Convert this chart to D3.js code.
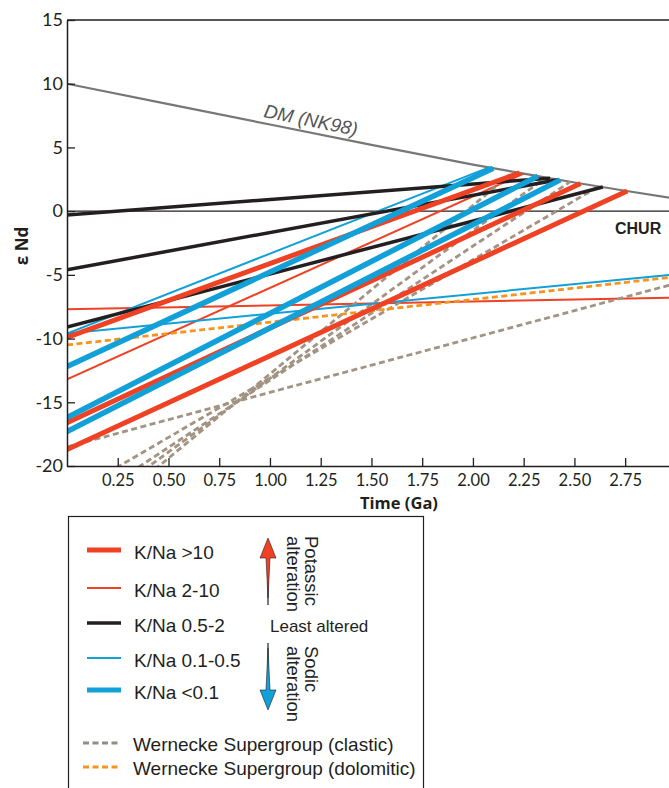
<!DOCTYPE html>
<html>
<head>
<meta charset="utf-8">
<script src="https://cdnjs.cloudflare.com/ajax/libs/d3/7.8.5/d3.min.js"></script>
<style>
  body { margin: 0; background: #fff; }
  .tick text { fill: #231f20; font-family: Lato, "Open Sans", sans-serif; }
  .legend text { font-family: "Liberation Sans", Arial, sans-serif; fill: #231f20; }
</style>
</head>
<body>
<div id="chart"></div>
<script>
// axis ticks
var xTicks = [0.25, 0.5, 0.75, 1.0, 1.25, 1.5, 1.75, 2.0, 2.25, 2.5, 2.75];
var yTicks = [-20, -15, -10, -5, 0, 5, 10, 15];

// depleted mantle curve (NK98): [time Ga, eps Nd]
var dmCurve = [[0, 10.0], [0.5, 8.4], [1.0, 6.8], [1.5, 5.2], [2.0, 3.65], [2.25, 2.95], [2.5, 2.25], [2.75, 1.6], [2.97, 1.05]];

// evolution lines: [eps Nd today, end time Ga, eps Nd at end]
var knaOver10 = [[-9.9, 2.23, 3.0], [-16.6, 2.53, 2.17], [-18.7, 2.76, 1.58]];
var kna2to10 = [[-7.7, 2.97, -6.8], [-13.2, 2.25, 2.95]];
var kna05to2 = [[-0.3, 2.38, 2.59], [-4.6, 2.42, 2.47], [-9.1, 2.64, 1.89]];
var kna01to05 = [[-9.6, 2.08, 3.43], [-9.6, 2.97, -5.0]];
var knaUnder01 = [[-12.2, 2.10, 3.37], [-16.2, 2.32, 2.75], [-17.3, 2.43, 2.45]];
var clastic = [[-18.5, 2.97, -5.8], [-22.4, 2.62, 1.94], [-23.8, 2.48, 2.31], [-24.7, 2.36, 2.64], [-26.0, 2.2, 3.09]];
var dolomitic = [[-10.5, 2.97, -5.2]];

var groups = [
  { rows: kna2to10, color: "#ef4123", w: 2 },
  { rows: clastic, color: "#a39382", w: 2.8, dash: "6,3.5" },
  { rows: dolomitic, color: "#f7941d", w: 2.8, dash: "6,3.5" },
  { rows: kna01to05, color: "#11a0d8", w: 2 },
  { rows: kna05to2, color: "#231f20", w: 3.5 },
  { rows: knaOver10, color: "#ef4123", w: 5 },
  { rows: knaUnder01, color: "#11a0d8", w: 5.5 }
];

var width = 669, height = 788;
var svg = d3.select("#chart").append("svg")
  .attr("width", width).attr("height", height);

var x = d3.scaleLinear().domain([0, 2.966]).range([67, 669]);
var y = d3.scaleLinear().domain([-20, 15]).range([466, 20]);

svg.append("clipPath").attr("id", "plot")
  .append("rect").attr("x", 67).attr("y", 20).attr("width", 602).attr("height", 446);

var plot = svg.append("g").attr("clip-path", "url(#plot)");

// CHUR
plot.append("line")
  .attr("x1", x(0)).attr("x2", x(2.966))
  .attr("y1", y(0)).attr("y2", y(0))
  .attr("stroke", "#231f20").attr("stroke-width", 1.3);

// DM
plot.append("path")
  .datum(dmCurve)
  .attr("d", d3.line().x(function (d) { return x(d[0]); }).y(function (d) { return y(d[1]); }))
  .attr("fill", "none").attr("stroke", "#777").attr("stroke-width", 2.2);

groups.forEach(function (g) {
  plot.selectAll(null)
    .data(g.rows)
    .enter()
    .append("line")
    .attr("x1", x(0))
    .attr("y1", function (d) { return y(d[0]); })
    .attr("x2", function (d) { return x(d[1]); })
    .attr("y2", function (d) { return y(d[2]); })
    .attr("stroke", g.color)
    .attr("stroke-width", g.w)
    .attr("stroke-dasharray", g.dash || null);
});

// axes
var xAxis = svg.append("g")
  .attr("transform", "translate(0,466)")
  .call(d3.axisBottom(x).tickValues(xTicks).tickSizeInner(-8).tickSizeOuter(0)
    .tickPadding(8).tickFormat(d3.format(".2f")));
xAxis.selectAll("text").style("font-size", "16.5px");

var yAxis = svg.append("g")
  .attr("transform", "translate(67,0)")
  .call(d3.axisLeft(y).tickValues(yTicks).tickSizeInner(-8).tickSizeOuter(0)
    .tickPadding(4).tickFormat(function (d) { return String(d); }));
yAxis.selectAll("text").style("font-size", "18px");

svg.selectAll(".domain").attr("stroke", "#231f20").attr("stroke-width", 1.5);
svg.selectAll(".tick line").attr("stroke", "#231f20").attr("stroke-width", 1.3);

// top border
svg.append("line").attr("x1", 67).attr("x2", 669).attr("y1", 20).attr("y2", 20)
  .attr("stroke", "#231f20").attr("stroke-width", 1.5);

// axis titles
svg.append("text").attr("x", 399).attr("y", 509).attr("text-anchor", "middle")
  .style("font-family", "Open Sans, sans-serif").style("font-weight", "bold").style("font-size", "16.5px")
  .attr("fill", "#231f20").text("Time (Ga)");
svg.append("text").attr("transform", "translate(28,246) rotate(-90)").attr("text-anchor", "middle")
  .style("font-family", "Open Sans, sans-serif").style("font-weight", "bold").style("font-size", "17px")
  .attr("fill", "#231f20").text("ε Nd");

// labels
svg.append("text").attr("transform", "translate(263,117) rotate(11.5)")
  .style("font-family", "Liberation Sans, Arial, sans-serif").style("font-style", "italic")
  .style("font-size", "19px").attr("fill", "#555").text("DM (NK98)");
svg.append("text").attr("x", 615).attr("y", 234)
  .style("font-family", "Liberation Sans, Arial, sans-serif").style("font-weight", "bold")
  .style("font-size", "16px").attr("fill", "#231f20").text("CHUR");

// legend
var lg = svg.append("g").attr("class", "legend");
lg.append("rect").attr("x", 68.5).attr("y", 516.5).attr("width", 355).attr("height", 300)
  .attr("fill", "none").attr("stroke", "#231f20").attr("stroke-width", 1.2);

var legendItems = [
  { label: "K/Na >10", color: "#ef4123", w: 5, y: 550 },
  { label: "K/Na 2-10", color: "#ef4123", w: 2, y: 588 },
  { label: "K/Na 0.5-2", color: "#231f20", w: 3.5, y: 623 },
  { label: "K/Na 0.1-0.5", color: "#11a0d8", w: 2, y: 658 },
  { label: "K/Na <0.1", color: "#11a0d8", w: 5, y: 690 },
  { label: "Wernecke Supergroup (clastic)", color: "#8f8f86", w: 2.8, y: 743, dash: "6,3.5" },
  { label: "Wernecke Supergroup (dolomitic)", color: "#f7941d", w: 2.8, y: 767, dash: "6,3.5" }
];
legendItems.forEach(function (d) {
  lg.append("line").attr("x1", d.dash ? 83 : 87).attr("x2", 121).attr("y1", d.y).attr("y2", d.y)
    .attr("stroke", d.color).attr("stroke-width", d.w).attr("stroke-dasharray", d.dash || null);
  lg.append("text").attr("x", d.dash ? 133 : 134).attr("y", d.y + (d.dash ? 7.5 : 8.5))
    .style("font-size", "19px").text(d.label);
});

// arrows
lg.append("line").attr("x1", 268).attr("x2", 268).attr("y1", 580).attr("y2", 605)
  .attr("stroke", "#231f20").attr("stroke-width", 1.2);
lg.append("path").attr("d", "M268,538 L276,558 L270,558 L268,598 L266,558 L260,558 Z")
  .attr("fill", "#ef4123").attr("stroke", "#231f20").attr("stroke-width", 0.6);
lg.append("line").attr("x1", 268).attr("x2", 268).attr("y1", 643).attr("y2", 668)
  .attr("stroke", "#231f20").attr("stroke-width", 1.2);
lg.append("path").attr("d", "M268,710 L276,690 L270,690 L268,648 L266,690 L260,690 Z")
  .attr("fill", "#11a0d8").attr("stroke", "#231f20").attr("stroke-width", 0.6);

lg.append("text").attr("transform", "translate(305,536) rotate(90)")
  .style("font-size", "18.5px")
  .selectAll("tspan").data(["Potassic", "alteration"]).enter().append("tspan")
  .attr("x", 0).attr("dy", function (d, i) { return i ? 18 : 0; }).text(function (d) { return d; });
lg.append("text").attr("x", 270).attr("y", 632).style("font-size", "17px").text("Least altered");
lg.append("text").attr("transform", "translate(305,646) rotate(90)")
  .style("font-size", "18.5px")
  .selectAll("tspan").data(["Sodic", "alteration"]).enter().append("tspan")
  .attr("x", 0).attr("dy", function (d, i) { return i ? 18 : 0; }).text(function (d) { return d; });
</script>
</body>
</html>
